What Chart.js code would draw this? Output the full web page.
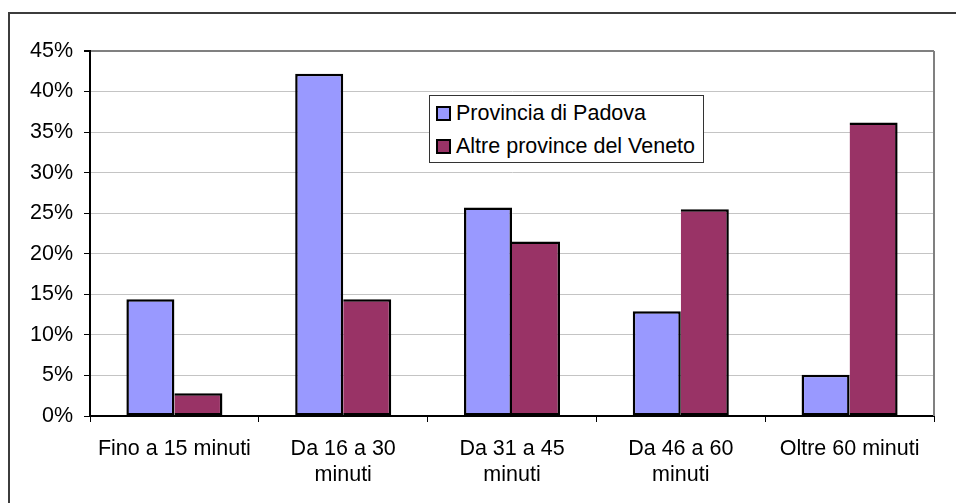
<!DOCTYPE html>
<html>
<head>
<meta charset="utf-8">
<script src="https://cdn.jsdelivr.net/npm/chart.js@4"></script>
<style>
    html, body { margin: 0; padding: 0; background: #fff; }
    #wrap { position: relative; width: 956px; height: 503px; overflow: hidden; }
    #frame { position: absolute; left: 8px; top: 12px; width: 1000px; height: 600px;
             border: 2px solid #3c3c3c; box-sizing: border-box; }
    #chart { position: absolute; left: 0; top: 0; }
    #legend { position: absolute; left: 429px; top: 95px; width: 275px; height: 68px;
              box-sizing: border-box; border: 1px solid #333; background: #fff;
              font-family: Arial, "Liberation Sans", sans-serif; font-size: 21.5px; color: #000; }
    .row { position: absolute; left: 6px; height: 24px; line-height: 24px; white-space: nowrap; }
    .sw { display: inline-block; width: 15px; height: 15px; box-sizing: border-box;
          border: 2px solid #000; margin-right: 5px; vertical-align: -1px; }
</style>
</head>
<body>
<div id="wrap">
    <div id="frame"></div>
    <canvas id="chart" width="956" height="503"></canvas>
    <div id="legend"></div>
</div>
<script>
'use strict';

// ── Data ────────────────────────────────────────────
const categories = [
    ['Fino a 15 minuti'],
    ['Da 16 a 30', 'minuti'],
    ['Da 31 a 45', 'minuti'],
    ['Da 46 a 60', 'minuti'],
    ['Oltre 60 minuti']
];
const seriesNames = ['Provincia di Padova', 'Altre province del Veneto'];
const padova = [14.4, 42.2, 25.7, 12.9, 5.1];
const altre  = [2.8, 14.4, 21.5, 25.5, 36.2];
const yTicks = [0, 5, 10, 15, 20, 25, 30, 35, 40, 45];
const colors = ['#9999FF', '#993366'];

const FONT = 'Arial, "Liberation Sans", sans-serif';

// grey border on the right side of the plot area (Excel-style)
const plotBorder = {
    id: 'plotBorder',
    beforeDatasetsDraw(chart) {
        const a = chart.chartArea, c = chart.ctx;
        c.save();
        c.strokeStyle = '#808080';
        c.lineWidth = 2;
        c.beginPath();
        c.moveTo(a.right, a.top);
        c.lineTo(a.right, a.bottom);
        c.stroke();
        c.restore();
    }
};

new Chart(document.getElementById('chart').getContext('2d'), {
    type: 'bar',
    data: {
        labels: categories,
        datasets: [
            {
                label: seriesNames[0],
                data: padova,
                backgroundColor: colors[0],
                borderColor: '#000',
                borderWidth: 2.5,
                borderSkipped: false
            },
            {
                label: seriesNames[1],
                data: altre,
                backgroundColor: colors[1],
                borderColor: '#000',
                borderWidth: { top: 2.5, right: 2.5, bottom: 2.5, left: 0 },
                borderSkipped: false
            }
        ]
    },
    options: {
        responsive: false,
        animation: false,
        layout: { padding: { left: 0, top: 51, right: 22, bottom: 0 } },
        categoryPercentage: 0.569,
        barPercentage: 1.0,
        plugins: {
            legend: { display: false },
            tooltip: { enabled: false }
        },
        scales: {
            x: {
                afterFit: s => { s.height = 87; },
                grid: {
                    offset: true,
                    drawOnChartArea: false,
                    drawTicks: true,
                    tickLength: 6,
                    tickColor: '#000',
                    lineWidth: 1
                },
                border: { color: '#000', width: 2 },
                ticks: {
                    color: '#000',
                    font: { family: FONT, size: 21.5, lineHeight: 1.2 },
                    padding: 14,
                    maxRotation: 0,
                    autoSkip: false
                }
            },
            y: {
                min: yTicks[0],
                max: yTicks[yTicks.length - 1],
                afterFit: s => { s.width = 90; },
                afterBuildTicks: s => { s.ticks = yTicks.map(v => ({ value: v })); },
                grid: {
                    color: ctx => (ctx.tick && ctx.tick.value === 45) ? '#808080' : '#c4c4c4',
                    lineWidth: ctx => (ctx.tick && ctx.tick.value === 45) ? 2 : 1,
                    tickColor: '#000',
                    tickLength: 6
                },
                border: { color: '#000', width: 2 },
                ticks: {
                    color: '#000',
                    font: { family: FONT, size: 21.5 },
                    padding: 11,
                    callback: v => v + '%'
                }
            }
        }
    },
    plugins: [plotBorder]
});

// ── Legend (HTML, built from series names / colours) ─
const legend = document.getElementById('legend');
seriesNames.forEach((name, i) => {
    const row = document.createElement('div');
    row.className = 'row';
    row.style.top = (5 + i * 33) + 'px';
    row.innerHTML = `<span class="sw" style="background:${colors[i]}"></span>${name}`;
    legend.appendChild(row);
});
</script>
</body>
</html>
